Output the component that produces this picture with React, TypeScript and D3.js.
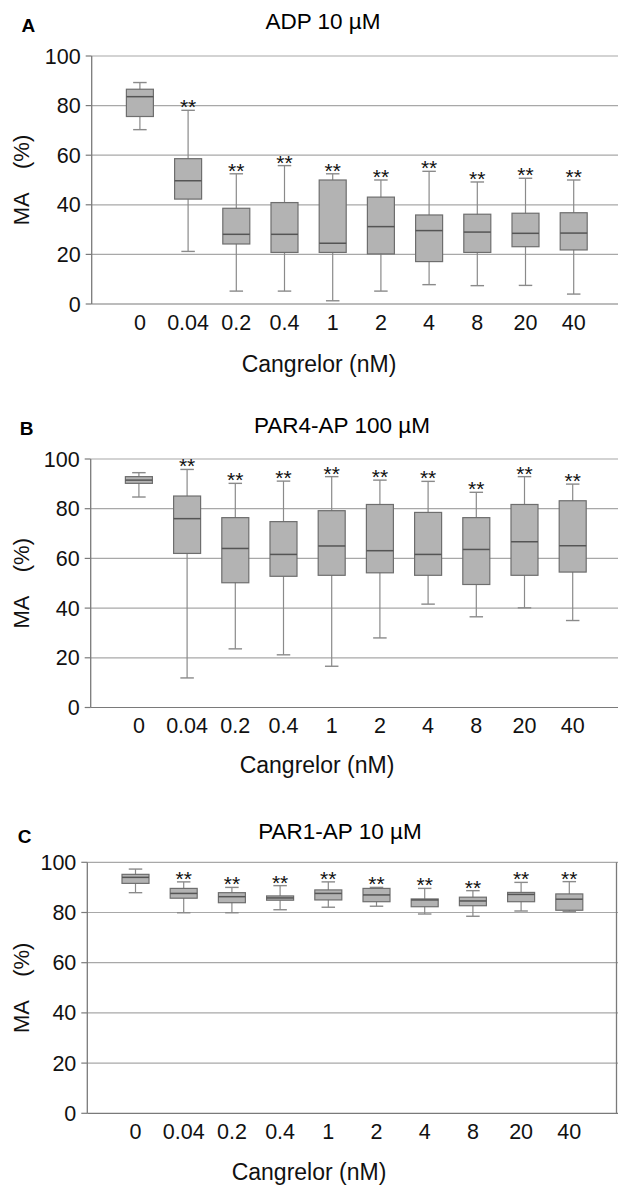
import React from "react"
import * as d3 from "d3"

// cangrelor concentrations (nM)
const doses = ["0", "0.04", "0.2", "0.4", "1", "2", "4", "8", "20", "40"]
const yTicks = [0, 20, 40, 60, 80, 100]
const sigMarks = ["", "**", "**", "**", "**", "**", "**", "**", "**", "**"]
const titles = ["ADP 10 µM", "PAR4-AP 100 µM", "PAR1-AP 10 µM"]
const letters = ["A", "B", "C"]

// [low whisker, Q1, median, Q3, high whisker]
const adpBoxes = [
    [70.3, 75.6, 83.6, 86.6, 89.3],
    [21.2, 42.3, 49.7, 58.6, 78.1],
    [5.2, 24.2, 28.1, 38.6, 52.5],
    [5.2, 20.8, 28.1, 40.9, 55.8],
    [1.3, 20.8, 24.5, 50.0, 52.5],
    [5.2, 20.2, 31.2, 43.1, 50.0],
    [7.8, 17.1, 29.6, 35.9, 53.5],
    [7.4, 20.8, 29.0, 36.2, 49.2],
    [7.5, 23.1, 28.5, 36.6, 50.7],
    [4.0, 21.8, 28.6, 36.8, 50.0],
]
const par4Boxes = [
    [84.7, 90.2, 91.5, 92.9, 94.5],
    [11.9, 62.0, 76.0, 85.1, 95.8],
    [23.6, 50.2, 64.0, 76.4, 90.2],
    [21.2, 52.8, 61.6, 74.8, 91.1],
    [16.6, 53.2, 65.0, 79.2, 92.9],
    [28.0, 54.2, 63.1, 81.7, 91.5],
    [41.6, 53.2, 61.6, 78.5, 91.0],
    [36.5, 49.5, 63.6, 76.4, 86.6],
    [40.1, 53.2, 66.7, 81.7, 92.9],
    [35.0, 54.5, 65.1, 83.2, 89.9],
]
const par1Boxes = [
    [87.9, 91.6, 94.0, 95.2, 97.3],
    [79.9, 85.7, 87.6, 89.6, 92.2],
    [79.9, 83.9, 86.3, 87.9, 90.0],
    [81.1, 84.9, 85.8, 86.6, 90.7],
    [82.1, 85.0, 87.6, 89.0, 92.2],
    [82.5, 84.3, 87.0, 89.6, 90.0],
    [79.4, 82.3, 85.0, 85.4, 89.6],
    [78.5, 82.7, 84.6, 86.1, 88.7],
    [80.6, 84.3, 87.2, 88.0, 92.0],
    [80.3, 80.9, 85.3, 87.4, 92.3],
]

const font = "'Liberation Sans', Arial, sans-serif"
const W = 618
const H = 1185
const step = 48.2
const boxW = 27
const capW = 13.5

const panels = [
    { data: adpBoxes, left: 91.7, top: 56, bottom: 304, letterX: 21.5, letterY: 32, titleX: 323, titleY: 29, xLabY: 330, axisTitleX: 319, axisTitleY: 372, frame: false },
    { data: par4Boxes, left: 90.7, top: 459, bottom: 707.5, letterX: 19.7, letterY: 435, titleX: 342, titleY: 433, xLabY: 732.5, axisTitleX: 317, axisTitleY: 773, frame: false },
    { data: par1Boxes, left: 87.3, top: 862.3, bottom: 1113.3, letterX: 17.7, letterY: 842.5, titleX: 340, titleY: 838.5, xLabY: 1139, axisTitleX: 309, axisTitleY: 1180, frame: true },
]

function Panel({ p, i }) {
    const x = d3.scaleBand().domain(doses).range([p.left + step / 2, p.left + step * 10.5])
    const y = d3.scaleLinear().domain([0, 100]).range([p.bottom, p.top])
    const cx = d => x(d) + x.bandwidth() / 2
    const midY = (p.top + p.bottom) / 2
    return (
        <g>
            <text x={p.letterX} y={p.letterY} fontSize={19} fontWeight="bold" fontFamily={font}>{letters[i]}</text>
            <text x={p.titleX} y={p.titleY} fontSize={22.5} textAnchor="middle" fontFamily={font}>{titles[i]}</text>
            {yTicks.map(t => (
                <g key={t}>
                    <line x1={p.left} x2={W} y1={y(t)} y2={y(t)} stroke={t === 0 ? "#7a7a7a" : "#a8a8a8"} strokeWidth={1.2} />
                    <line x1={p.left - 6} x2={p.left} y1={y(t)} y2={y(t)} stroke="#7a7a7a" strokeWidth={1.2} />
                    <text x={p.left - 11} y={y(t) + 7.5} fontSize={21.5} textAnchor="end" fontFamily={font} fill="#111">{t}</text>
                </g>
            ))}
            <line x1={p.left} x2={p.left} y1={p.top} y2={p.bottom} stroke="#7a7a7a" strokeWidth={1.3} />
            {p.frame && <line x1={W - 1.5} x2={W - 1.5} y1={p.top} y2={p.bottom} stroke="#7a7a7a" strokeWidth={1.3} />}
            <text transform={`translate(${29},${midY}) rotate(-90)`} fontSize={22} textAnchor="middle" fontFamily={font} fill="#111"
                style={{ whiteSpace: "pre" }}>{"MA    (%)"}</text>
            {doses.map((d, k) => {
                const [lo, q1, med, q3, hi] = p.data[k]
                const c = cx(d)
                return (
                    <g key={d}>
                        <line x1={c} x2={c} y1={y(hi)} y2={y(lo)} stroke="#8a8a8a" strokeWidth={1.2} />
                        <line x1={c - capW / 2} x2={c + capW / 2} y1={y(hi)} y2={y(hi)} stroke="#8a8a8a" strokeWidth={1.4} />
                        <line x1={c - capW / 2} x2={c + capW / 2} y1={y(lo)} y2={y(lo)} stroke="#8a8a8a" strokeWidth={1.4} />
                        <rect x={c - boxW / 2} y={y(q3)} width={boxW} height={y(q1) - y(q3)} fill="#b3b3b3" stroke="#6e6e6e" strokeWidth={1.2} />
                        <line x1={c - boxW / 2} x2={c + boxW / 2} y1={y(med)} y2={y(med)} stroke="#555" strokeWidth={1.5} />
                        {sigMarks[k] && <text x={c} y={y(hi) + 4} fontSize={21} textAnchor="middle" fontFamily={font} fill="#111">{sigMarks[k]}</text>}
                        <text x={c} y={p.xLabY} fontSize={21.5} textAnchor="middle" fontFamily={font} fill="#111">{d}</text>
                    </g>
                )
            })}
            <text x={p.axisTitleX} y={p.axisTitleY} fontSize={23} textAnchor="middle" fontFamily={font} fill="#111">Cangrelor (nM)</text>
        </g>
    )
}

export default function App() {
    return (
        <div>
            <style>{`body{margin:0}`}</style>
            <svg width={W} height={H} style={{ display: "block", background: "#fff" }}>
                {panels.map((p, i) => <Panel key={i} p={p} i={i} />)}
            </svg>
        </div>
    )
}
